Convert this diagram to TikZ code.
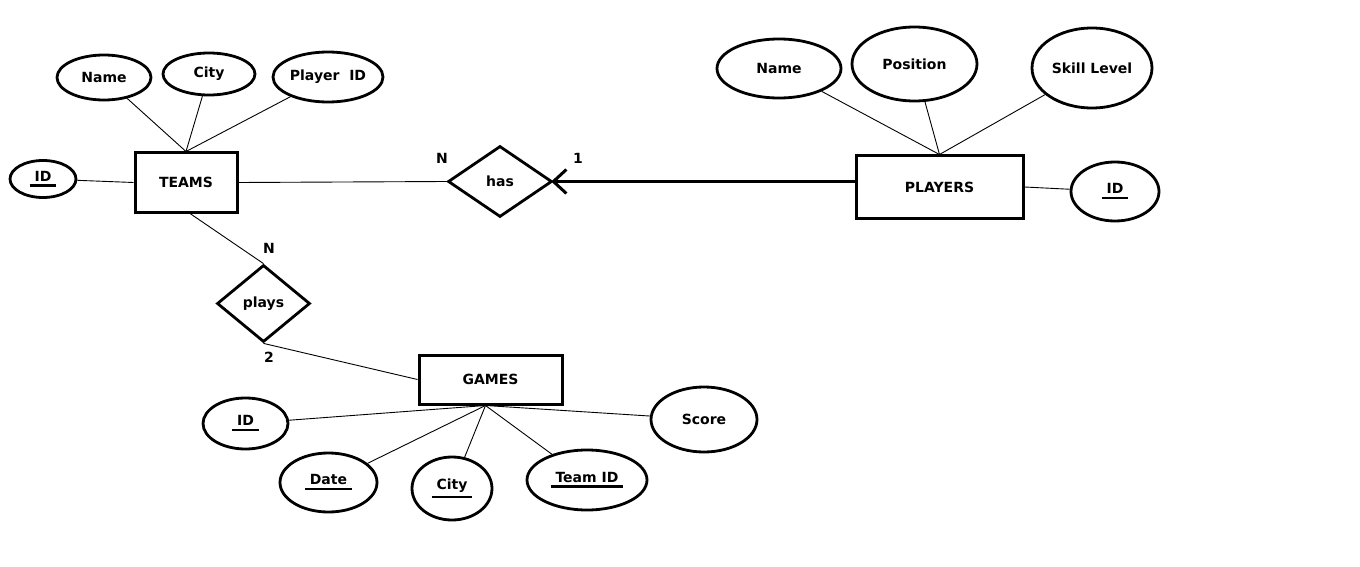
\documentclass[tikz,border=0pt]{standalone}
\usepackage{fontspec}
\setmainfont{DejaVu Sans}
\usetikzlibrary{shapes.geometric}
\newcommand{\keyattr}[1]{\vtop{\hbox{\kern5pt#1\kern5pt}\kern3pt\hrule height 2.5pt}}

\begin{document}
\begin{tikzpicture}[
    x=1pt, y=-1pt,
    font=\bfseries\fontsize{14}{16}\selectfont,
    entity/.style={rectangle, draw, line width=3pt, inner sep=0pt},
    attrib/.style={ellipse, draw, line width=2.8pt, inner sep=0pt},
    relation/.style={diamond, draw, line width=2.8pt, inner sep=0pt},
    link/.style={line width=0.9pt},
    strong/.style={line width=3pt},
    card/.style={inner sep=0pt}
]
\useasboundingbox (0,0) rectangle (1360,567);

% Entities
\node[entity, minimum width=102, minimum height=59] (teams) at (186,182.5) {TEAMS};
\node[entity, minimum width=167, minimum height=62] (players) at (939.5,187) {PLAYERS};
\node[entity, minimum width=143, minimum height=49] (games) at (490.5,379.5) {GAMES};

% Relationships
\node[relation, minimum width=104, minimum height=71] (has) at (500,181.5) {has};
\node[relation, minimum width=93, minimum height=77] (plays) at (263.5,303.5) {plays};

% Attributes of TEAMS
\node[attrib, minimum width=94, minimum height=45] (tname) at (104,77.5) {Name};
\node[attrib, minimum width=92, minimum height=42] (tcity) at (209,74) {City};
\node[attrib, minimum width=110, minimum height=50] (tplayer) at (328,77) {Player\ \ ID};
\node[attrib, minimum width=66, minimum height=37] (tid) at (43,179) {\keyattr{ID}};

% Attributes of PLAYERS
\node[attrib, minimum width=124, minimum height=59] (pname) at (779,68.5) {Name};
\node[attrib, minimum width=125, minimum height=74] (ppos) at (914.5,64) {Position};
\node[attrib, minimum width=120, minimum height=80] (pskill) at (1092,68) {Skill Level};
\node[attrib, minimum width=88, minimum height=59] (pid) at (1115,191.5) {\keyattr{ID}};

% Attributes of GAMES
\node[attrib, minimum width=85, minimum height=51] (gid) at (245.5,423.5) {\keyattr{ID}};
\node[attrib, minimum width=97, minimum height=59] (gdate) at (328.5,482.5) {\keyattr{Date}};
\node[attrib, minimum width=80, minimum height=63] (gcity) at (452,488.5) {\keyattr{City}};
\node[attrib, minimum width=120, minimum height=60] (gteam) at (587,480) {\keyattr{Team ID}};
\node[attrib, minimum width=106, minimum height=65] (gscore) at (704,419.5) {Score};

% Cardinalities
\node[card] (hasn) at (442,158) {N};
\node[card] (hasone) at (578,158) {1};
\node[card] (playsn) at (269,248) {N};
\node[card] (playstwo) at (269,357) {2};

% Attribute links
\draw[link] (tname) -- (teams.north);
\draw[link] (tcity) -- (teams.north);
\draw[link] (tplayer) -- (teams.north);
\draw[link] (tid) -- (teams.west);
\draw[link] (pname) -- (players.north);
\draw[link] (ppos) -- (players.north);
\draw[link] (pskill) -- (players.north);
\draw[link] (pid) -- (players.east);
\draw[link] (gid) -- ([xshift=-5]games.south);
\draw[link] (gdate) -- ([xshift=-5]games.south);
\draw[link] (gcity) -- ([xshift=-5]games.south);
\draw[link] (gteam) -- ([xshift=-5]games.south);
\draw[link] (gscore) -- ([xshift=-5]games.south);

% Relationship links
\draw[link] (teams.east) -- (has.west);
\draw[strong] (has.east) -- (has.east -| players.west);
\draw[strong] ([xshift=13,yshift=12]has.east) -- (has.east) -- ([xshift=13,yshift=-12]has.east);
\draw[link] ([xshift=4]teams.south) -- (plays.north);
\draw[link] (plays.south) -- (games.west);
\end{tikzpicture}
\end{document}
